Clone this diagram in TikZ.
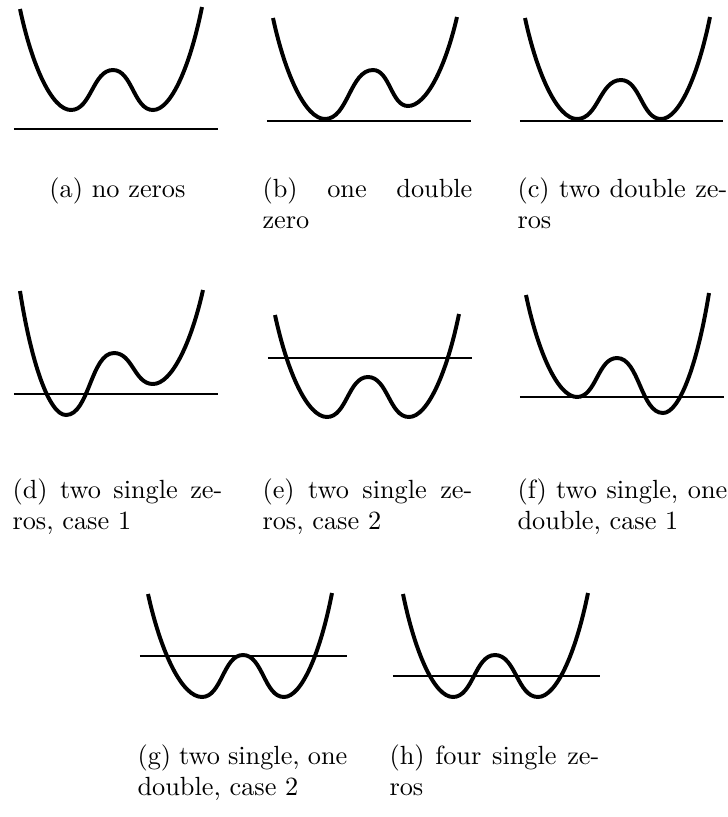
\documentclass[tikz,border=0pt]{standalone}
\usetikzlibrary{calc}
\begin{document}
\begin{tikzpicture}[x=0.3802pt,y=-0.3802pt,
  curve/.style={line width=1.5pt},
  zline/.style={line width=0.8pt},
  zlinea/.style={line width=1.05pt},
  captext/.style={text width=79.8pt,align=justify,inner sep=0pt,anchor=base west,font=\normalsize},
  captextc/.style={captext,align=center}]
\useasboundingbox (0,0) rectangle (728,817);
\def\wcurve(#1,#2)(#3,#4)(#5,#6)(#7,#8){%
  \def\wcXL{#1}\def\wcYL{#2}\def\wcXA{#3}\def\wcYA{#4}%
  \def\wcXM{#5}\def\wcYM{#6}\def\wcXB{#7}\def\wcYB{#8}\wcurveend}
\def\wcurveend(#1,#2){%
  \draw[curve] (\wcXL,\wcYL)
   .. controls ({\wcXL+0.24*(\wcXA-\wcXL)},{\wcYL+0.57*(\wcYA-\wcYL)}) and ({\wcXA-0.37*(\wcXA-\wcXL)},\wcYA) .. (\wcXA,\wcYA)
   .. controls ({\wcXA+0.48*(\wcXM-\wcXA)},\wcYA) and ({\wcXM-0.48*(\wcXM-\wcXA)},\wcYM) .. (\wcXM,\wcYM)
   .. controls ({\wcXM+0.48*(\wcXB-\wcXM)},\wcYM) and ({\wcXB-0.48*(\wcXB-\wcXM)},\wcYB) .. (\wcXB,\wcYB)
   .. controls ({\wcXB+0.37*(#1-\wcXB)},\wcYB) and ({#1-0.24*(#1-\wcXB)},{#2+0.57*(\wcYB-#2)}) .. (#1,#2);}
% ---------- row 1 ----------
% (a)
\wcurve(20,9)(71,110)(113,70)(153,110)(202,7)
\coordinate (a1) at (14,129); \coordinate (a2) at (218,129);
\draw[zlinea] (a1) -- (a2);
% (b)
\wcurve(273,18)(325,119)(373,70)(408,106)(457,17)
\coordinate (b1) at (267,121); \coordinate (b2) at (471,121);
\draw[zlinea] (b1) -- (b2);
% (c)
\wcurve(525,18)(577,119)(621,80)(661,119)(710,17)
\coordinate (c1) at (520,121); \coordinate (c2) at (723,121);
\draw[zlinea] (c1) -- (c2);
\node[captextc] (capa) at (12,197) {(a) no zeros};
\node[captext] (capb) at (262,197) {(b) one double\linebreak zero};
\node[captext] (capc) at (517,197) {(c) two double ze-\linebreak ros};
% ---------- row 2 ----------
% (d)
\wcurve(20,291)(66,415)(114,353)(153,384)(203,290)
\coordinate (d1) at (14,394); \coordinate (d2) at (218,394);
\draw[zline] (d1) -- (d2);
% (e)
\wcurve(275,315)(327,417)(368,377)(409,417)(459,314)
\coordinate (e1) at (268,358); \coordinate (e2) at (472,358);
\draw[zline] (e1) -- (e2);
% (f)
\wcurve(526,295)(577,397)(617,358)(663,413)(709,293)
\coordinate (f1) at (520,397); \coordinate (f2) at (724,397);
\draw[zline] (f1) -- (f2);
\node[captext] (capd) at (12,498) {(d) two single ze-\linebreak ros, case 1};
\node[captext] (cape) at (262,498) {(e) two single ze-\linebreak ros, case 2};
\node[captext] (capf) at (517,498) {(f) two single, one\linebreak double, case 1};
% ---------- row 3 ----------
% (g)
\wcurve(148,594)(202,697)(243,655)(284,697)(332,593)
\coordinate (g1) at (140,656); \coordinate (g2) at (347,656);
\draw[zline] (g1) -- (g2);
% (h)
\wcurve(403,594)(453,697)(495,655)(538,697)(588,593)
\coordinate (h1) at (393,676); \coordinate (h2) at (600,676);
\draw[zline] (h1) -- (h2);
\node[captext] (capg) at (137,764) {(g) two single, one\linebreak double, case 2};
\node[captext] (caph) at (389,764) {(h) four single ze-\linebreak ros};
\end{tikzpicture}
\end{document}
